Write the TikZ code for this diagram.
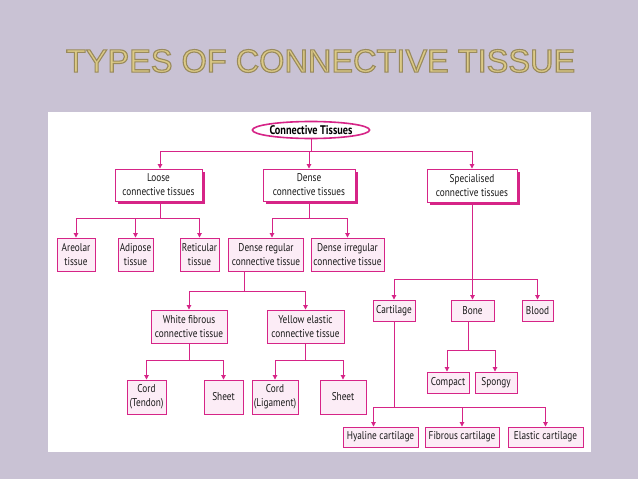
\documentclass[tikz,border=0pt]{standalone}
\usepackage{fontspec}
\setmainfont{Liberation Sans}
\newfontfamily\cond[FakeStretch=0.82]{PT Sans}
\usetikzlibrary{shapes.geometric,arrows.meta,shadows}
\definecolor{bg}{RGB}{201,194,212}
\definecolor{mag}{RGB}{214,36,135}
\definecolor{pinkfill}{RGB}{252,236,246}
\definecolor{gold}{RGB}{220,202,134}
\tikzset{
  box/.style={draw=mag, line width=0.9pt, fill=pinkfill, inner sep=1pt, align=center,
    font=\cond\fontsize{11.3}{14}\selectfont, text=black!90},
  topbox/.style={box, fill=white, drop shadow={shadow xshift=3pt, shadow yshift=-3pt, fill=mag, opacity=1}},
  conn/.style={draw=mag, line width=0.9pt},
  arr/.style={conn, -{Triangle[width=4.5pt,length=4.5pt]}},
  sz/.style 2 args={minimum width=#1pt, minimum height=#2pt},
  ttl/.style={font=\fontsize{32.5}{36}\selectfont, inner sep=0pt},
}
\begin{document}
\begin{tikzpicture}[x=1pt,y=-1pt]
\path[fill=bg] (0,0) rectangle (638,479);
\useasboundingbox (0,0) rectangle (638,479);
\fill[white] (48,112) rectangle (591,452);
% title
\node[ttl] (title) at (320.6,61) {\color{gold}\special{pdf:literal direct 2 Tr 1.1 w 0.6 0.54 0.36 RG}TYPES OF CONNECTIVE TISSUE\special{pdf:literal direct 0 Tr}};
% root
\node[ellipse, draw=mag, line width=1.6pt, fill=white, minimum width=115pt, minimum height=17pt, inner sep=0pt,
  font=\cond\bfseries\fontsize{12.5}{14}\selectfont] (root) at (311,130) {Connective Tissues};
% level 1
\node[topbox, sz={87}{32}] (loose) at (158.5,185) {Loose\\connective tissues};
\node[topbox, sz={92}{32}] (dense) at (309,185) {Dense\\connective tissues};
\node[topbox, sz={90}{33}] (spec) at (472,185.5) {Specialised\\connective tissues};
% level 2
\node[box, sz={38}{33}] (areolar) at (76,254.5) {Areolar\\tissue};
\node[box, sz={35}{33}] (adipose) at (135.5,254.5) {Adipose\\tissue};
\node[box, sz={39}{33}] (reticular) at (199.5,254.5) {Reticular\\tissue};
\node[box, sz={75}{33}] (denreg) at (266,254.5) {Dense regular\\connective tissue};
\node[box, sz={73}{33}] (denirr) at (347.5,254.5) {Dense irregular\\connective tissue};
% level 3 (dense regular)
\node[box, sz={76}{33}] (white) at (189,326.5) {White fibrous\\connective tissue};
\node[box, sz={77}{33}] (yellow) at (305.5,326.5) {Yellow elastic\\connective tissue};
\node[box, sz={39}{34}] (tendon) at (146.5,397) {Cord\\(Tendon)};
\node[box, sz={39}{34}] (sheeta) at (223.5,397) {Sheet};
\node[box, sz={46}{34}] (ligament) at (275,397) {Cord\\(Ligament)};
\node[box, sz={46}{34}] (sheetb) at (343,397) {Sheet};
% specialised
\node[box, sz={42}{21}] (cartilage) at (394,310.5) {Cartilage};
\node[box, sz={43}{21}] (bone) at (472.5,310.5) {Bone};
\node[box, sz={31}{21}] (blood) at (537.5,310.5) {Blood};
\node[box, sz={42}{21}] (compact) at (448,382.5) {Compact};
\node[box, sz={42}{21}] (spongy) at (496,382.5) {Spongy};
\node[box, sz={75}{20}] (hyaline) at (380.5,437) {Hyaline cartilage};
\node[box, sz={74}{20}] (fibrous) at (462,437) {Fibrous cartilage};
\node[box, sz={75}{20}] (elastic) at (545.5,437) {Elastic cartilage};
% connectors
\draw[conn] (root.south) -- ++(0,12.5) coordinate (b0);
\draw[arr] (b0) -| ([xshift=1.5pt]loose.north);
\draw[arr] (b0) -| (dense.north);
\draw[arr] (b0) -| (spec.north);

\draw[conn] ([xshift=1.5pt]loose.south) -- ++(0,17) coordinate (b1);
\draw[arr] (b1) -| (areolar.north);
\draw[arr] (b1) -| (adipose.north);
\draw[arr] (b1) -| (reticular.north);

\draw[conn] (dense.south) -- ++(0,17) coordinate (b2);
\draw[arr] (b2) -| ([xshift=6pt]denreg.north);
\draw[arr] (b2) -| (denirr.north);

\draw[conn] ([xshift=-22pt]denreg.south) -- ++(0,20) coordinate (b3);
\draw[arr] (b3) -| (white.north);
\draw[arr] (b3) -| (yellow.north);

\draw[conn] (white.south) -- ++(0,17) coordinate (b4);
\draw[arr] (b4) -| (tendon.north);
\draw[arr] (b4) -| (sheeta.north);

\draw[conn] (yellow.south) -- ++(0,17) coordinate (b5);
\draw[arr] (b5) -| (ligament.north);
\draw[arr] (b5) -| (sheetb.north);

\draw[conn] (spec.south) -- ++(0,77) coordinate (b6);
\draw[arr] (b6) -| (cartilage.north);
\draw[arr] (b6) -| (bone.north);
\draw[arr] (b6) -| (blood.north);

\draw[conn] ([xshift=-4pt]bone.south) -- ++(0,29) coordinate (b7);
\draw[arr] (b7) -| ([xshift=-1pt]compact.north);
\draw[arr] (b7) -| ([xshift=-1pt]spongy.north);

\draw[conn] (cartilage.south) -- ++(0,86) coordinate (b8);
\draw[arr] (b8) -| ([xshift=-7pt]hyaline.north);
\draw[arr] (b8) -| (fibrous.north);
\draw[arr] (b8) -| (elastic.north);
\end{tikzpicture}
\end{document}
